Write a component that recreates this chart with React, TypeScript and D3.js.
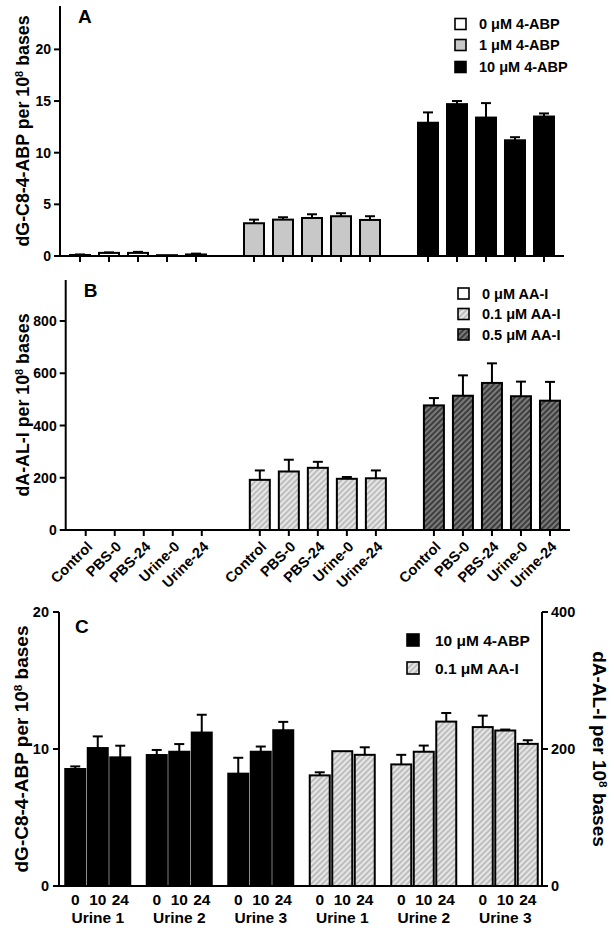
import React from 'react';
import * as d3 from 'd3';

const FONT = '"Liberation Sans", Arial, Helvetica, sans-serif';

// ---------- Panel A / B data ----------
const conditions = ['Control', 'PBS-0', 'PBS-24', 'Urine-0', 'Urine-24'];

const abpDoses = ['0 μM 4-ABP', '1 μM 4-ABP', '10 μM 4-ABP'];
const abpMeans = [
  [0.1, 0.3, 0.3, 0.08, 0.15],
  [3.17, 3.52, 3.68, 3.85, 3.49],
  [12.9, 14.7, 13.4, 11.2, 13.5],
];
const abpSD = [
  [0.05, 0.05, 0.1, 0.03, 0.08],
  [0.35, 0.23, 0.36, 0.29, 0.36],
  [1.0, 0.3, 1.4, 0.3, 0.3],
];
const abpTicks = [0, 5, 10, 15, 20];

const aalDoses = ['0 μM AA-I', '0.1 μM AA-I', '0.5 μM AA-I'];
const aalMeans = [
  [0, 0, 0, 0, 0],
  [192, 224, 238, 196, 198],
  [477, 514, 563, 512, 495],
];
const aalSD = [
  [0, 0, 0, 0, 0],
  [36, 45, 23, 7, 30],
  [28, 78, 75, 56, 72],
];
const aalTicks = [0, 200, 400, 600, 800];

// ---------- Panel C data ----------
const urineSamples = ['Urine 1', 'Urine 2', 'Urine 3'];
const timePoints = ['0', '10', '24'];
const cSeries = ['10 μM 4-ABP', '0.1 μM AA-I'];
const cAbpMeans = [
  [8.54, 10.07, 9.39],
  [9.56, 9.8, 11.2],
  [8.2, 9.8, 11.37],
];
const cAbpSD = [
  [0.19, 0.85, 0.85],
  [0.37, 0.56, 1.3],
  [1.16, 0.38, 0.61],
];
const cAalMeans = [
  [161.5, 196.8, 191.5],
  [177.5, 196, 240],
  [232, 227, 207.5],
];
const cAalSD = [
  [4.5, 0.7, 11],
  [14, 9, 12.6],
  [16.7, 1.4, 5.3],
];
const cLeftTicks = [0, 10, 20];
const cRightTicks = [0, 200, 400];

// ---------- styles ----------
const abpFills = ['#ffffff', '#c8c8c8', '#000000'];
const aalFills = ['#ffffff', 'url(#hatchLight)', 'url(#hatchDark)'];

const AXW = 2;

function ErrorBar({ x, y0, y1, cap = 10 }: any) {
  if (Math.abs(y0 - y1) < 0.5) return null;
  return (
    <g stroke="#000" strokeWidth={2} fill="none">
      <line x1={x} x2={x} y1={y0} y2={y1} />
      <line x1={x - cap / 2} x2={x + cap / 2} y1={y1} y2={y1} />
    </g>
  );
}

function YLabel({ x, y, rotate, size, text }: any) {
  return (
    <text
      transform={`translate(${x},${y}) rotate(${rotate})`}
      textAnchor="middle"
      dy="0.35em"
      fontSize={size}
      fontWeight="bold"
      fontFamily={FONT}
    >
      {text}
      <tspan> per 10</tspan>
      <tspan baselineShift="super" fontSize={size * 0.62}>8</tspan>
      <tspan> bases</tspan>
    </text>
  );
}

function DosePanel({
  means, sds, doses, fills, ticks, yMax, top, bottom, left, right,
  letter, yLabel, legend, showXLabels,
}: any) {
  const y = d3.scaleLinear().domain([0, yMax]).range([bottom, top]);
  const x = d3.scaleLinear().domain([-0.69, 16.69]).range([left, right]);
  const barW = 20;
  const slots: any[] = [];
  means.forEach((row: number[], g: number) => {
    row.forEach((v: number, j: number) => {
      slots.push({ g, j, v, sd: sds[g][j], slot: g * 6 + j });
    });
  });
  return (
    <g fontFamily={FONT} fontWeight="bold">
      {slots.map((d) =>
        d.v > 0 ? (
          <g key={`b${d.slot}`}>
            <rect
              x={x(d.slot) - barW / 2}
              y={y(d.v)}
              width={barW}
              height={bottom - y(d.v)}
              fill={fills[d.g]}
              stroke="#000"
              strokeWidth={2}
            />
            <ErrorBar x={x(d.slot)} y0={y(d.v)} y1={y(d.v + d.sd)} />
          </g>
        ) : null
      )}
      <line x1={left} x2={left} y1={top} y2={bottom + 1} stroke="#000" strokeWidth={AXW} />
      <line x1={left - 1} x2={right} y1={bottom} y2={bottom} stroke="#000" strokeWidth={AXW} />
      {ticks.map((t: number) => (
        <g key={`t${t}`}>
          <line x1={left - 6} x2={left} y1={y(t)} y2={y(t)} stroke="#000" strokeWidth={AXW} />
          <text x={left - 9} y={y(t)} dy="0.36em" textAnchor="end" fontSize={14}>
            {t}
          </text>
        </g>
      ))}
      {slots.map((d) => (
        <line
          key={`xt${d.slot}`}
          x1={x(d.slot)}
          x2={x(d.slot)}
          y1={bottom}
          y2={bottom + 6}
          stroke="#000"
          strokeWidth={AXW}
        />
      ))}
      {showXLabels &&
        slots.map((d) => (
          <text
            key={`xl${d.slot}`}
            transform={`translate(${x(d.slot) + 4},${bottom + 14}) rotate(-45)`}
            textAnchor="end"
            dy="0.35em"
            fontSize={14.5}
          >
            {conditions[d.j]}
          </text>
        ))}
      <text x={left + 18} y={top + 17} fontSize={19}>
        {letter}
      </text>
      <YLabel x={23} y={(top + bottom) / 2} rotate={-90} size={17.8} text={yLabel} />
      {doses.map((name: string, i: number) => (
        <g key={name}>
          <rect
            x={legend.x}
            y={legend.ys[i] - 5.5}
            width={11}
            height={11}
            fill={fills[i]}
            stroke="#000"
            strokeWidth={1.6}
          />
          <text x={legend.x + 24} y={legend.ys[i]} dy="0.36em" fontSize={14.5}>
            {name}
          </text>
        </g>
      ))}
    </g>
  );
}

function PanelC() {
  const top = 612;
  const bottom = 886;
  const left = 59;
  const right = 542;
  const yL = d3.scaleLinear().domain([0, 20]).range([bottom, top]);
  const yR = d3.scaleLinear().domain([0, 400]).range([bottom, top]);
  const groups = [
    ...urineSamples.map((u) => `abp|${u}`),
    ...urineSamples.map((u) => `aal|${u}`),
  ];
  const gx = d3.scaleBand().domain(groups).range([57, 546]);
  const bx = d3.scaleBand().domain(timePoints).range([7, gx.bandwidth() - 7]);
  const barW = 20;
  const bars: any[] = [];
  urineSamples.forEach((u, i) => {
    timePoints.forEach((t, j) => {
      bars.push({ key: `abp|${u}`, t, v: cAbpMeans[i][j], sd: cAbpSD[i][j], scale: yL, fill: '#000' });
    });
  });
  urineSamples.forEach((u, i) => {
    timePoints.forEach((t, j) => {
      bars.push({ key: `aal|${u}`, t, v: cAalMeans[i][j], sd: cAalSD[i][j], scale: yR, fill: 'url(#hatchLight)' });
    });
  });
  const cx = (d: any) => (gx(d.key) as number) + (bx(d.t) as number) + bx.bandwidth() / 2;
  return (
    <g fontFamily={FONT} fontWeight="bold">
      {bars.map((d, k) => (
        <g key={k}>
          <rect
            x={cx(d) - barW / 2}
            y={d.scale(d.v)}
            width={barW}
            height={bottom - d.scale(d.v)}
            fill={d.fill}
            stroke="#000"
            strokeWidth={2}
          />
          <ErrorBar x={cx(d)} y0={d.scale(d.v)} y1={d.scale(d.v + d.sd)} />
        </g>
      ))}
      <line x1={left} x2={left} y1={top} y2={bottom + 1} stroke="#000" strokeWidth={AXW} />
      <line x1={right} x2={right} y1={top} y2={bottom + 1} stroke="#000" strokeWidth={AXW} />
      <line x1={left - 1} x2={right + 1} y1={bottom} y2={bottom} stroke="#000" strokeWidth={AXW} />
      {cLeftTicks.map((t) => (
        <g key={`l${t}`}>
          <line x1={left - 6} x2={left} y1={yL(t)} y2={yL(t)} stroke="#000" strokeWidth={AXW} />
          <text x={left - 10} y={yL(t)} dy="0.36em" textAnchor="end" fontSize={14.5}>
            {t}
          </text>
        </g>
      ))}
      {cRightTicks.map((t) => (
        <g key={`r${t}`}>
          <line x1={right} x2={right + 6} y1={yR(t)} y2={yR(t)} stroke="#000" strokeWidth={AXW} />
          <text x={right + 9} y={yR(t)} dy="0.36em" textAnchor="start" fontSize={14.5}>
            {t}
          </text>
        </g>
      ))}
      {bars.map((d, k) => (
        <text key={`n${k}`} x={cx(d)} y={905} textAnchor="middle" fontSize={15.5}>
          {d.t}
        </text>
      ))}
      {groups.map((g) => (
        <text
          key={`g${g}`}
          x={(gx(g) as number) + gx.bandwidth() / 2}
          y={922.5}
          textAnchor="middle"
          fontSize={15.5}
        >
          {g.split('|')[1]}
        </text>
      ))}
      <text x={left + 16} y={top + 21} fontSize={19}>
        C
      </text>
      <YLabel x={21} y={(top + bottom) / 2} rotate={-90} size={19} text="dG-C8-4-ABP" />
      <YLabel x={600} y={(top + bottom) / 2} rotate={90} size={19} text="dA-AL-I" />
      {cSeries.map((name, i) => (
        <g key={name}>
          <rect
            x={407}
            y={[640, 668][i] - 6}
            width={12}
            height={12}
            fill={i === 0 ? '#000' : 'url(#hatchLight)'}
            stroke="#000"
            strokeWidth={1.6}
          />
          <text x={435} y={[640, 668][i]} dy="0.36em" fontSize={15.5}>
            {name}
          </text>
        </g>
      ))}
    </g>
  );
}

export default function App() {
  return (
    <svg
      width={616}
      height={928}
      viewBox="0 0 616 928"
      style={{ position: 'absolute', left: 0, top: 0, background: '#fff' }}
    >
      <defs>
        <pattern id="hatchLight" patternUnits="userSpaceOnUse" width={4} height={4} patternTransform="rotate(45)">
          <rect width={4} height={4} fill="#e6e6e6" />
          <line x1={1} x2={1} y1={0} y2={4} stroke="#a8a8a8" strokeWidth={1.3} />
        </pattern>
        <pattern id="hatchDark" patternUnits="userSpaceOnUse" width={4} height={4} patternTransform="rotate(45)">
          <rect width={4} height={4} fill="#7a7a7a" />
          <line x1={1} x2={1} y1={0} y2={4} stroke="#2e2e2e" strokeWidth={1.6} />
        </pattern>
      </defs>
      <rect width={616} height={928} fill="#fff" />
      <DosePanel
        means={abpMeans}
        sds={abpSD}
        doses={abpDoses}
        fills={abpFills}
        ticks={abpTicks}
        yMax={24.2}
        top={6}
        bottom={256}
        left={60}
        right={564}
        letter="A"
        yLabel="dG-C8-4-ABP"
        legend={{ x: 455, ys: [24, 45, 67] }}
        showXLabels={false}
      />
      <DosePanel
        means={aalMeans}
        sds={aalSD}
        doses={aalDoses}
        fills={aalFills}
        ticks={aalTicks}
        yMax={957}
        top={280}
        bottom={530}
        left={65.7}
        right={570}
        letter="B"
        yLabel="dA-AL-I"
        legend={{ x: 458, ys: [293.5, 314, 334.5] }}
        showXLabels={true}
      />
      <PanelC />
    </svg>
  );
}
